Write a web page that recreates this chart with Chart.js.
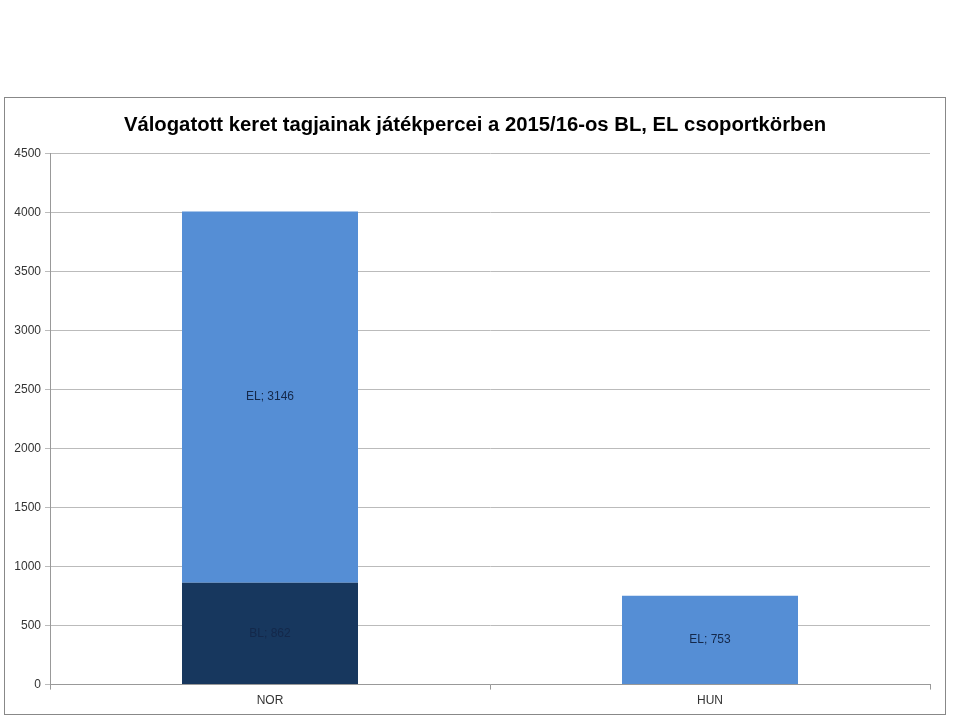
<!DOCTYPE html>
<html>
<head>
<meta charset="utf-8">
<script src="https://cdn.jsdelivr.net/npm/chart.js@4/dist/chart.umd.min.js"></script>
<style>
  body { margin: 0; background: #fff; }
  #box { position: absolute; left: 4px; top: 97px; width: 940px; height: 616px; border: 1px solid #888; background: #fff; }
</style>
</head>
<body>
<div id="box"><canvas id="chart"></canvas></div>
<script>
// data
let countries = ['NOR', 'HUN']
let blMinutes = [862, null]
let elMinutes = [3146, 753]
let yTicks = [0, 500, 1000, 1500, 2000, 2500, 3000, 3500, 4000, 4500]

// writes "BL; 862" in the middle of each bar piece
let barLabels = {
    id: 'barLabels',
    afterDatasetsDraw(chart) {
        let ctx = chart.ctx
        ctx.save()
        ctx.font = '12px "Liberation Sans", Arial, sans-serif'
        ctx.fillStyle = '#14284a'
        ctx.textAlign = 'center'
        ctx.textBaseline = 'middle'
        chart.data.datasets.forEach(function (ds, i) {
            chart.getDatasetMeta(i).data.forEach(function (bar, j) {
                if (ds.data[j] == null) return
                let p = bar.getProps(['x', 'y', 'base'], true)
                ctx.fillText(ds.label + '; ' + ds.data[j], p.x, (p.y + p.base) / 2)
            })
        })
        ctx.restore()
    }
}

// center the title on the whole box, not on the padded area
let centerTitle = {
    id: 'centerTitle',
    afterLayout(chart) {
        if (chart.titleBlock) {
            chart.titleBlock.left = 0
            chart.titleBlock.right = chart.width
        }
    }
}

let ctx = document.querySelector('#chart').getContext('2d')

new Chart(ctx, {
    type: 'bar',
    data: {
        labels: countries,
        datasets: [
            { label: 'BL', data: blMinutes, backgroundColor: '#17375e' },
            { label: 'EL', data: elMinutes, backgroundColor: '#558ed5' }
        ]
    },
    options: {
        responsive: true,
        maintainAspectRatio: false,
        animation: false,
        layout: { padding: { left: 0, right: 15, top: 0, bottom: 2 } },
        datasets: { bar: { categoryPercentage: 1, barPercentage: 0.4 } },
        plugins: {
            legend: { display: false },
            tooltip: { enabled: false },
            title: {
                display: true,
                text: 'Válogatott keret tagjainak játékpercei a 2015/16-os BL, EL csoportkörben',
                color: '#000',
                font: { family: '"Liberation Sans", Arial, sans-serif', size: 20.3, weight: 'bold' },
                padding: { top: 15, bottom: 16 }
            }
        },
        scales: {
            x: {
                stacked: true,
                grid: { offset: true, drawOnChartArea: false, drawTicks: true, tickLength: 5, color: '#999' },
                border: { color: '#999' },
                ticks: { color: '#333', font: { family: '"Liberation Sans", Arial, sans-serif', size: 12 }, padding: 4 }
            },
            y: {
                stacked: true,
                min: 0,
                max: 4500,
                afterBuildTicks: function (scale) { scale.ticks = yTicks.map(function (v) { return { value: v } }) },
                afterFit: function (scale) { scale.width = 45 },
                grid: { color: '#bbb', tickLength: 5 },
                border: { color: '#999' },
                ticks: {
                    color: '#333',
                    font: { family: '"Liberation Sans", Arial, sans-serif', size: 12 },
                    padding: 4,
                    callback: function (v) { return String(v) }
                }
            }
        }
    },
    plugins: [barLabels, centerTitle]
})
</script>
</body>
</html>
